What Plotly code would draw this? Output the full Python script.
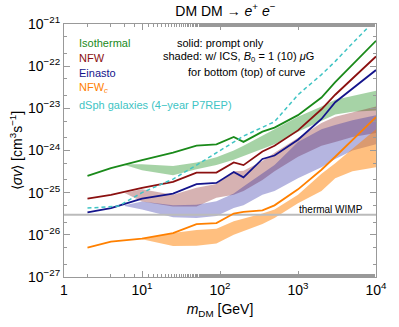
import plotly.graph_objects as go

# --- solid lines: prompt only ---
mass_lines = [2, 4, 10, 25, 50, 90, 150, 200, 350, 500, 1000, 2000, 3000, 5000, 10000]
iso_line = [2.5e-25, 3.8e-25, 5.9e-25, 8.9e-25, 1.3e-24, 1.4e-24, 2.1e-24, 1.6e-24,
            2.8e-24, 3.5e-24, 6.9e-24, 1.8e-23, 4.2e-23, 1.1e-22, 4.0e-22]
nfw_line = [7.2e-26, 8.9e-26, 1.3e-25, 1.8e-25, 3.0e-25, 3.0e-25, 5.2e-25, 4.5e-25,
            9.5e-25, 1.3e-24, 3.0e-24, 9.5e-24, 2.1e-23, 5.0e-23, 1.7e-22]
ein_line = [3.4e-26, 4.3e-26, 7.2e-26, 9.5e-26, 1.6e-25, 1.7e-25, 3.1e-25, 2.3e-25,
            6.3e-25, 7.6e-25, 1.8e-24, 5.6e-24, 1.4e-23, 3.0e-23, 8.1e-23]
nfwc_line = [5.0e-27, 6.9e-27, 8.1e-27, 1.1e-26, 1.8e-26, 1.9e-26, 3.2e-26, 3.5e-26,
             3.8e-26, 5.0e-26, 1.2e-25, 3.5e-25, 7.1e-25, 1.8e-24, 6.2e-24]

# --- dSph (dashed) ---
mass_dsph = [2, 5, 10, 25, 50, 100, 200, 500, 1000, 2000, 3000, 5000, 10000]
dsph = [4.3e-26, 4.8e-26, 1.0e-25, 2.1e-25, 4.5e-25, 1.0e-24, 2.2e-24, 4.8e-24,
        2.1e-23, 6.3e-23, 1.3e-22, 3.5e-22, 1.3e-21]

# --- shaded: with ICS, B0 = 1 (bottom) / 10 (top) muG ---
mass_band = [6, 10, 25, 50, 90, 150, 200, 350, 500, 1000, 2000, 3000, 5000, 10000]
iso_top = [4.7e-25, 4.7e-25, 4.3e-25, 5.2e-25, 6.9e-25, 1.0e-24, 1.3e-24, 2.2e-24,
           3.2e-24, 6.3e-24, 1.1e-23, 1.6e-23, 2.0e-23, 2.6e-23]
iso_bot = [4.5e-25, 3.4e-25, 2.6e-25, 3.6e-25, 4.5e-25, 6.0e-25, 7.6e-25, 1.1e-24,
           1.4e-24, 2.8e-24, 5.0e-24, 7.1e-24, 8.3e-24, 8.9e-24]
nfw_top = [1.0e-25, 1.2e-25, 8.9e-26, 1.3e-25, 1.6e-25, 3.2e-25, 3.3e-25, 5.6e-25,
           8.9e-25, 2.0e-24, 4.5e-24, 6.3e-24, 7.9e-24, 1.1e-23]
nfw_bot = [9.8e-26, 6.2e-26, 4.7e-26, 4.7e-26, 7.6e-26, 8.9e-26, 1.1e-25, 2.0e-25,
           3.2e-25, 7.1e-25, 1.3e-24, 1.6e-24, 2.1e-24, 2.6e-24]
ein_top = [5.0e-26, 6.2e-26, 5.0e-26, 5.2e-26, 6.3e-26, 9.5e-26, 1.4e-25, 2.8e-25,
           4.5e-25, 1.6e-24, 3.2e-24, 4.0e-24, 5.2e-24, 6.9e-24]
ein_bot = [4.8e-26, 4.0e-26, 2.6e-26, 2.5e-26, 2.8e-26, 4.3e-26, 5.0e-26, 8.9e-26,
           1.1e-25, 2.2e-25, 4.0e-25, 6.3e-25, 1.0e-24, 1.4e-24]

mass_band_c = [10, 25, 50, 90, 150, 200, 350, 500, 1000, 2000, 3000, 5000, 10000]
nfwc_top = [8.1e-27, 1.1e-26, 1.3e-26, 1.4e-26, 2.1e-26, 2.4e-26, 3.2e-26, 4.0e-26,
            8.9e-26, 2.8e-25, 5.0e-25, 1.1e-24, 3.2e-24]
nfwc_bot = [7.9e-27, 5.4e-27, 5.5e-27, 6.2e-27, 1.0e-26, 1.2e-26, 1.8e-26, 2.5e-26,
            5.6e-26, 1.1e-25, 2.2e-25, 3.2e-25, 4.0e-25]

thermal_wimp = 3e-26

GREEN = "#1a8a1a"
RED = "#8b1010"
BLUE = "#14148c"
ORANGE = "#ff8000"
CYAN = "#40c4c4"
FONT = "Liberation Sans"

fig = go.Figure()

bands = [
    (mass_band, iso_top, iso_bot, "rgba(0,128,0,0.35)"),
    (mass_band, nfw_top, nfw_bot, "rgba(130,20,20,0.33)"),
    (mass_band, ein_top, ein_bot, "rgba(30,30,160,0.33)"),
    (mass_band_c, nfwc_top, nfwc_bot, "rgba(255,128,0,0.5)"),
]
for m, top, bot, col in bands:
    fig.add_trace(go.Scatter(
        x=m + m[::-1], y=top + bot[::-1],
        fill="toself", fillcolor=col, mode="lines",
        line=dict(width=0), hoverinfo="skip", showlegend=False,
    ))

fig.add_trace(go.Scatter(x=[1, 10000], y=[thermal_wimp, thermal_wimp], mode="lines",
                         line=dict(color="#bbbbbb", width=2), showlegend=False))

for y, col in [(iso_line, GREEN), (nfw_line, RED), (ein_line, BLUE), (nfwc_line, ORANGE)]:
    fig.add_trace(go.Scatter(x=mass_lines, y=y, mode="lines",
                             line=dict(color=col, width=1.8), showlegend=False))

fig.add_trace(go.Scatter(x=mass_dsph, y=dsph, mode="lines",
                         line=dict(color=CYAN, width=1.5, dash="4px,3px"), showlegend=False))

axis_common = dict(
    type="log", showgrid=False, zeroline=False, showline=True, mirror="allticks",
    linecolor="#999999", linewidth=1, ticks="inside", ticklen=6, tickcolor="#999999",
    tickfont=dict(family=FONT, size=14, color="black"), ticklabeloverflow="allow",
    minor=dict(ticks="inside", ticklen=3, tickcolor="#999999", showgrid=False),
)

fig.update_xaxes(
    range=[0, 4], tickvals=[1, 10, 100, 1000, 10000],
    ticktext=["1", "10<sup>1</sup>", "10<sup>2</sup>", "10<sup>3</sup>", "10<sup>4</sup>"],
    title=dict(text="<i>m</i><sub>DM</sub> [GeV]", font=dict(family=FONT, size=14, color="black"),
               standoff=7),
    **axis_common,
)
fig.update_yaxes(
    range=[-27, -21], tickvals=[1e-27, 1e-26, 1e-25, 1e-24, 1e-23, 1e-22, 1e-21],
    ticktext=["10<sup>−27</sup>", "10<sup>−26</sup>", "10<sup>−25</sup>", "10<sup>−24</sup>",
              "10<sup>−23</sup>", "10<sup>−22</sup>", "10<sup>−21</sup>"],
    title=dict(text="⟨<i>σv</i>⟩ [cm<sup>3</sup>s<sup>−1</sup>]",
               font=dict(family=FONT, size=14, color="black"), standoff=2),
    **axis_common,
)

def label(text, x, y, color="black", anchor="left", size=11):
    fig.add_annotation(text=text, x=x, y=y, xref="paper", yref="paper", showarrow=False,
                       xanchor=anchor, yanchor="middle",
                       font=dict(family=FONT, size=size, color=color))

label("Isothermal", 0.043, 0.926, GREEN)
label("NFW", 0.043, 0.864, RED)
label("Einasto", 0.043, 0.806, BLUE)
label("NFW<sub><i>c</i></sub>", 0.043, 0.748, ORANGE)
label("dSph galaxies (4−year P7REP)", 0.043, 0.678, CYAN)
label("solid: prompt only", 0.50, 0.926, anchor="center")
label("shaded: w/ ICS, <i>B</i><sub>0</sub> = 1 (10) <i>μ</i>G", 0.56, 0.868, anchor="center")
label("for bottom (top) of curve", 0.586, 0.81, anchor="center")
label("thermal WIMP", 0.966, 0.268, anchor="right", size=10)

fig.update_layout(
    width=399, height=327,
    margin=dict(l=64, r=12, t=24, b=45),
    plot_bgcolor="white", paper_bgcolor="white",
    title=dict(text="DM DM → <i>e</i><sup>+</sup> <i>e</i><sup>−</sup>", x=0.565, xanchor="center",
               y=0.967, yanchor="middle", font=dict(family=FONT, size=14, color="black")),
    showlegend=False,
)

# the browser's default body margin would shift the figure by 8 px
fig.write_html("out.html", config={"displayModeBar": False},
               post_script="document.body.style.margin='0';")
